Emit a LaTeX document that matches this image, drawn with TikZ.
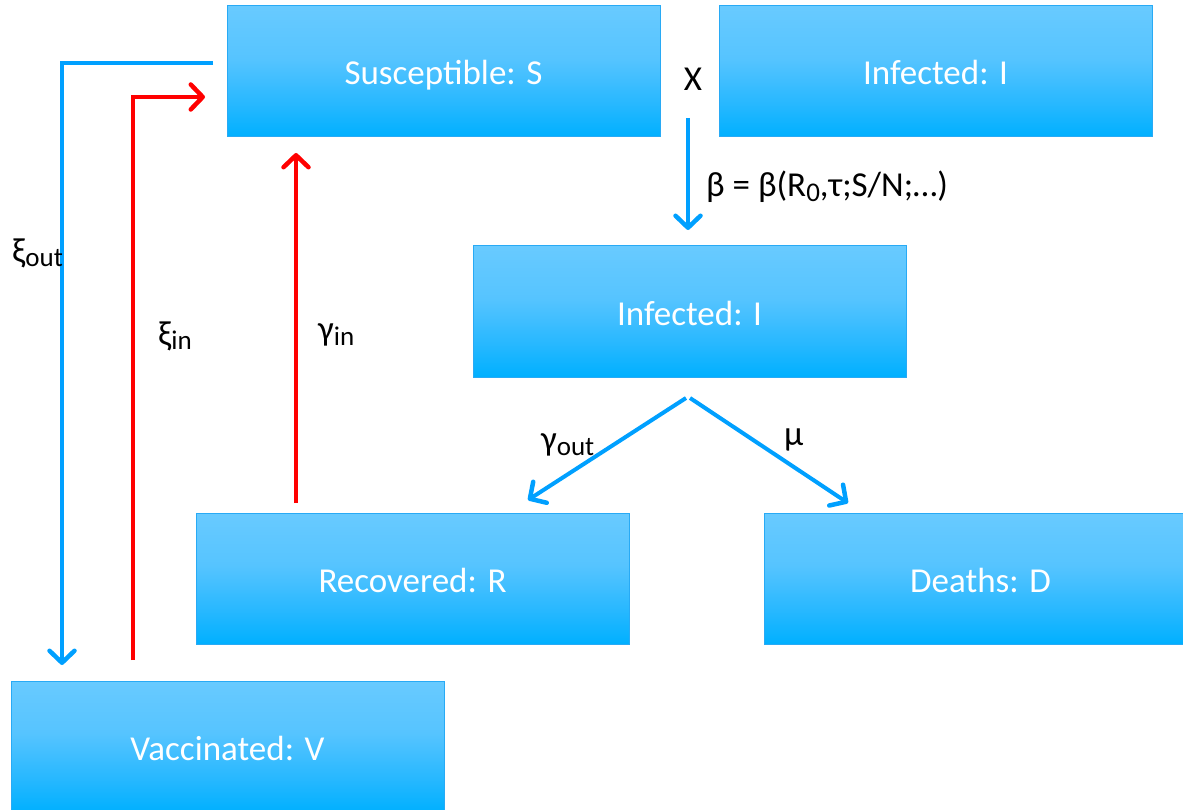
\documentclass[tikz,border=0pt]{standalone}
\usepackage{fontspec}
\setmainfont{Carlito}
\usetikzlibrary{arrows.meta}
\definecolor{boxtop}{RGB}{104,202,255}
\definecolor{boxmid}{RGB}{86,196,255}
\definecolor{boxlow}{RGB}{40,184,255}
\definecolor{boxbot}{RGB}{0,176,255}
\definecolor{boxline}{RGB}{40,170,245}
\definecolor{arrblue}{RGB}{0,160,255}
\definecolor{arrred}{RGB}{255,0,0}
\pgfdeclareverticalshading{boxshade}{100bp}{color(0bp)=(boxbot); color(25bp)=(boxbot); color(38bp)=(boxlow); color(55bp)=(boxmid); color(75bp)=(boxtop); color(100bp)=(boxtop)}
\newcommand{\lowsub}[1]{\raisebox{-0.14em}{\fontsize{27}{27}\selectfont #1}}
\tikzset{
  compbox/.style={shading=boxshade, draw=boxline, line width=1pt, minimum width=433pt, minimum height=131pt, inner sep=0pt, text height=27pt, text depth=0pt, text=white, font=\fontsize{35}{40}\selectfont},
  lbl/.style={text=black, inner sep=0pt, font=\fontsize{35}{40}\selectfont},
  blueflow/.style={draw=arrblue, line width=4pt, -{Straight Barb[length=12pt,width=25pt,line width=4.5pt,round]}},
  redflow/.style={draw=arrred, line width=4pt, -{Straight Barb[length=12pt,width=25pt,line width=4.5pt,round]}},
}
\begin{document}
\begin{tikzpicture}[x=1pt,y=-1pt]
\useasboundingbox (0,0) rectangle (1183,810);
\clip (0,0) rectangle (1183,810);
% boxes
\node[compbox] (S) at (443.5,71.5) {Susceptible: S};
\node[compbox] (It) at (935.5,71.5) {Infected: I};
\node[compbox] (I) at (689.5,311.5) {Infected: I};
\node[compbox] (R) at (412.5,578.5) {Recovered: R};
\node[compbox] (D) at (980.5,578.5) {Deaths: D};
\node[compbox] (V) at (227.5,746.5) {Vaccinated: V};
% coordinates
\coordinate (xoA) at (213,63);
\coordinate (xoB) at (62,63);
\coordinate (xoC) at (62,665);
\coordinate (xiA) at (133,660);
\coordinate (xiB) at (133,97);
\coordinate (xiC) at (205,97);
\coordinate (giA) at (296,503);
\coordinate (giB) at (296,153);
\coordinate (bA) at (688,118);
\coordinate (bB) at (688,230);
\coordinate (split1) at (686,398);
\coordinate (split2) at (690,398);
\coordinate (goE) at (528,500);
\coordinate (muE) at (848,503);
% arrows
\draw[blueflow, line join=miter] (xoA) -- (xoB) -- (xoC);
\draw[redflow, line join=miter] (xiA) -- (xiB) -- (xiC);
\draw[redflow] (giA) -- (giB);
\draw[blueflow] (bA) -- (bB);
\draw[blueflow] (split1) -- (goE);
\draw[blueflow] (split2) -- (muE);
% labels
\node[lbl] (times) at (693,79) {X};
\node[lbl, anchor=west] (beta) at (706,187) {β = β(R\lowsub{0},τ;S/N;…)};
\node[lbl, anchor=west] (xout) at (12,253) {ξ\lowsub{out}};
\node[lbl, anchor=west] (xin) at (158,336) {ξ\lowsub{in}};
\node[lbl, anchor=west] (gin) at (318,335) {γ\lowsub{in}};
\node[lbl, anchor=west] (gout) at (541,445) {γ\lowsub{out}};
\node[lbl, anchor=west] (mu) at (784,440) {μ};
\end{tikzpicture}
\end{document}
